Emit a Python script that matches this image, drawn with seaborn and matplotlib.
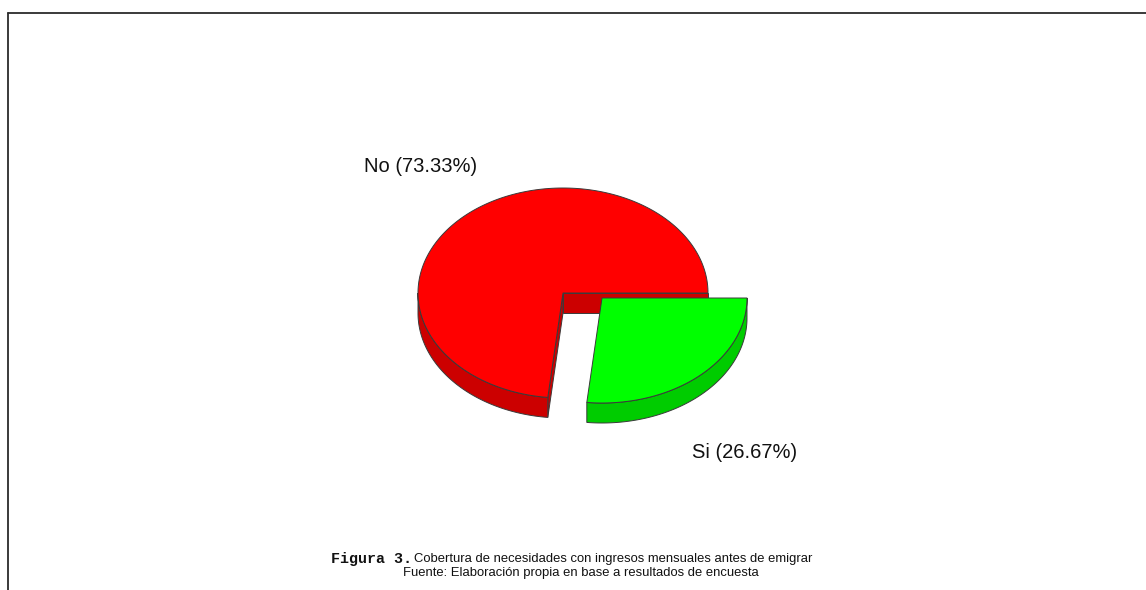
import numpy as np
import matplotlib
matplotlib.use("Agg")
import matplotlib.pyplot as plt
from matplotlib.patches import Polygon
from matplotlib.lines import Line2D
import seaborn as sns

# ---- data ----
categories = ["No", "Si"]
values = [73.33, 26.67]
labels = ["No (73.33%)", "Si (26.67%)"]
top_colors = ["#FF0000", "#00FF00"]
side_colors = ["#CC0000", "#00CC00"]
caption_bold = "Figura 3."
caption_line1 = "Cobertura de necesidades con ingresos mensuales antes de emigrar"
caption_line2 = "Fuente: Elaboración propia en base a resultados de encuesta"

sns.set_theme(style="white")
plt.rcParams["font.family"] = ["Liberation Sans", "DejaVu Sans"]

W, H = 1146, 590
fig = plt.figure(figsize=(W / 100, H / 100), dpi=100)
ax = fig.add_axes([0, 0, 1, 1])
ax.set_xlim(0, W)
ax.set_ylim(H, 0)
ax.axis("off")

# geometry of the 3D pie (pixel units)
rx, ry, depth = 145, 105, 20
centers = [(563, 293), (602, 298)]
edge = "#3a3a3a"
lw = 0.7


def pt(c, t, dz=0):
    return (c[0] + rx * np.cos(t), c[1] - ry * np.sin(t) + dz)


def arc(c, t0, t1, dz=0, n=200):
    ts = np.linspace(t0, t1, n)
    return [pt(c, t, dz) for t in ts]


fracs = np.array(values) / np.sum(values)
bounds = np.concatenate([[0], np.cumsum(fracs)]) * 2 * np.pi

for i, (c, tc, sc) in enumerate(zip(centers, top_colors, side_colors)):
    t0, t1 = bounds[i], bounds[i + 1]
    # radial walls (visible if their normal faces the viewer)
    for t, sgn in ((t0, -1), (t1, 1)):
        nrm = t + sgn * np.pi / 2
        if np.sin(nrm) < 0:
            p = pt(c, t)
            poly = [c, p, (p[0], p[1] + depth), (c[0], c[1] + depth)]
            ax.add_patch(Polygon(poly, closed=True, facecolor=sc, edgecolor=edge, lw=lw, zorder=2 + 2 * i))
    # outer wall: front half (angles between pi and 2pi)
    a0, a1 = max(t0, np.pi), min(t1, 2 * np.pi)
    if a1 > a0:
        top = arc(c, a0, a1)
        bot = arc(c, a1, a0, dz=depth)
        ax.add_patch(Polygon(top + bot, closed=True, facecolor=sc, edgecolor=edge, lw=lw, zorder=2 + 2 * i))
    # top face
    poly = [c] + arc(c, t0, t1)
    ax.add_patch(Polygon(poly, closed=True, facecolor=tc, edgecolor=edge, lw=lw, zorder=3 + 2 * i))

# labels
ax.text(421, 167, labels[0], ha="center", va="center", fontsize=14.5, color="#111111")
ax.text(745, 452, labels[1], ha="center", va="center", fontsize=14.5, color="#111111")

# caption
ax.text(412, 559, caption_bold, ha="right", va="center", fontsize=10.8,
        family=["Liberation Mono", "DejaVu Sans Mono"], fontweight="bold", color="#111111")
ax.text(414, 559, caption_line1, ha="left", va="center", fontsize=9.4, color="#111111")
ax.text(581, 573, caption_line2, ha="center", va="center", fontsize=9.4, color="#111111")

# frame lines (top and left)
ax.add_line(Line2D([8, W], [12.5, 12.5], color="#2b2b2b", lw=1.3))
ax.add_line(Line2D([8, 8], [12.5, H], color="#2b2b2b", lw=1.3))

fig.savefig("out.png", dpi=100)
